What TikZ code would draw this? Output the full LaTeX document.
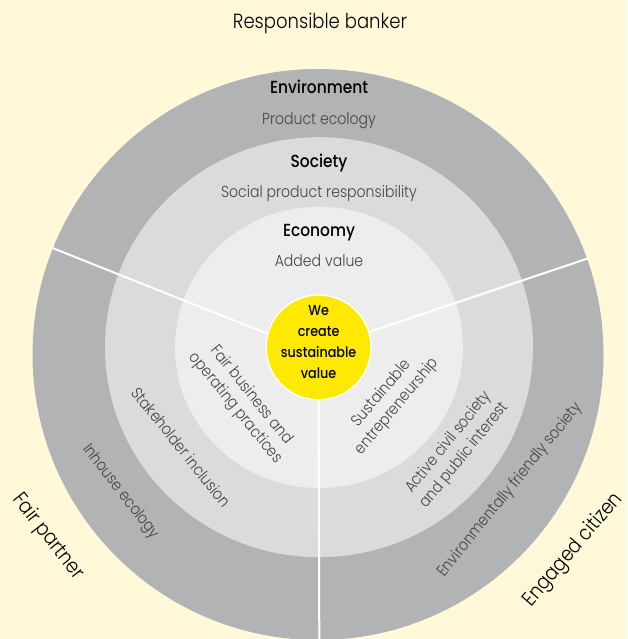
\documentclass[tikz,border=0pt]{standalone}
\usepackage{fontspec}
\setmainfont{Poppins}[FakeStretch=0.88, UprightFont=* Light, BoldFont=* Medium]
\definecolor{bg}{HTML}{FFF9DA}
\definecolor{ringA}{HTML}{B2B3B4}
\definecolor{ringB}{HTML}{DADBDC}
\definecolor{ringC}{HTML}{ECEDEC}
\definecolor{core}{HTML}{FFE900}
\definecolor{txtgray}{HTML}{454545}
\begin{document}
\begin{tikzpicture}[x=1pt,y=-1pt,
  lab/.style={font=\fontsize{16}{20.5}\selectfont, text=txtgray, align=center, inner sep=0pt},
  head/.style={font=\fontsize{17.5}{20}\selectfont\bfseries, text=black, inner sep=0pt},
  big/.style={font=\fontsize{20.5}{24}\selectfont, text=black, inner sep=0pt},
  divider/.style={draw=white, line width=2pt}]
\useasboundingbox (0,0) rectangle (627,639);
\fill[bg] (0,0) rectangle (627,639);
\begin{scope}
\clip (0,0) rectangle (627,639);
\fill[ringA] (318,354.5) circle (285.5);
\fill[ringB] (319,347.2) ellipse [x radius=214, y radius=210];
\fill[ringC] (319,347.4) ellipse [x radius=144, y radius=140.6];
\end{scope}
\node[circle, fill=core, draw=white, line width=1.5pt, minimum size=105pt, inner sep=0pt] (core) at (318.6,347.4) {};
\coordinate (Lout) at (51.7,247.7);
\coordinate (Rout) at (588.3,258.3);
\coordinate (Bout) at (319.3,639);
\draw[divider] (Lout) -- (core.165);
\draw[divider] (Rout) -- (core.17);
\draw[divider] (core.south) -- (Bout);
\node[font=\fontsize{14.5}{21}\selectfont\bfseries, align=center, inner sep=0pt] (coretext) at (318.6,342.5) {We\\create\\sustainable\\value};
\node[big, anchor=base] (rb) at (320,29) {Responsible banker};
\node[head, anchor=base] (env) at (319,93.3) {Environment};
\node[lab, anchor=base] (pe) at (319,125) {Product ecology};
\node[head, anchor=base] (soc) at (319,167.3) {Society};
\node[lab, anchor=base] (spr) at (319,197.7) {Social product responsibility};
\node[head, anchor=base] (eco) at (319,236.8) {Economy};
\node[lab, anchor=base] (av) at (319,266) {Added value};
\node[lab, rotate=-51] (fb) at (243.3,401.8) {Fair business and\\operating practices};
\node[lab, rotate=-51.5] (si) at (181.4,447.2) {Stakeholder inclusion};
\node[lab, rotate=-52] (ie) at (120.4,492) {Inhouse ecology};
\node[big, rotate=-51.7] (fp) at (48,537) {Fair partner};
\node[lab, rotate=50] (se) at (389.5,400) {Sustainable\\entrepreneurship};
\node[lab, rotate=51] (ac) at (456.5,449) {Active civil society\\and public interest};
\node[lab, rotate=51] (ef) at (510,490) {Environmentally friendly society};
\node[big, rotate=49.5] (ec) at (573.5,550) {Engaged citizen};
\end{tikzpicture}
\end{document}
